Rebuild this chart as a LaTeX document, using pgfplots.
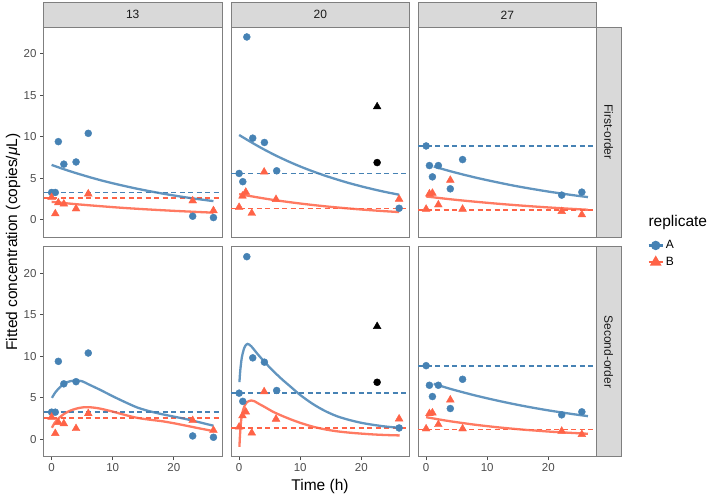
\documentclass[border=0pt]{standalone}
\usepackage{fontspec}
\setmainfont{Liberation Sans}
\usepackage{pgfplots}
\usepackage{pgfplotstable}
\pgfplotsset{compat=1.18}
\definecolor{cA}{HTML}{4682B4}
\definecolor{cB}{HTML}{FF6347}
\definecolor{bordergray}{HTML}{7F7F7F}
\definecolor{stripgray}{HTML}{D9D9D9}
\definecolor{ticktext}{HTML}{4D4D4D}
\definecolor{striptext}{HTML}{1A1A1A}
\pgfplotsset{
  panel/.style={
    scale only axis, width=178.5pt, height=210pt, anchor=south west,
    xmin=-1.33, xmax=27.9, ymin=-2.08, ymax=23.2,
    axis line style={draw=bordergray, line width=0.9pt},
    xtick={0,10,20}, ytick={0,5,10,15,20},
    xtick pos=lower, ytick pos=left,
    tick align=outside, major tick length=3.5pt,
    tick style={draw=ticktext, line width=0.8pt},
    tick label style={font=\fontsize{11.5}{13}\selectfont, text=ticktext},
    /pgf/number format/assume math mode=true,
    clip mode=individual,
  },
  ptsA/.style={only marks, mark=*, mark size=3.5pt, color=cA, mark options={draw=none, fill=cA}, forget plot},
  ptsB/.style={only marks, mark=triangle*, mark size=4.5pt, color=cB, mark options={draw=none, fill=cB}, forget plot},
  ptsK/.style={only marks, mark=*, mark size=3.5pt, color=black, mark options={draw=none, fill=black}, forget plot},
  ptsKT/.style={only marks, mark=triangle*, mark size=4.5pt, color=black, mark options={draw=none, fill=black}, forget plot},
  fitA/.style={no markers, line width=2.3pt, color=cA, opacity=0.85, smooth, forget plot},
  fitB/.style={no markers, line width=2.3pt, color=cB, opacity=0.85, smooth, forget plot},
  hA/.style={no markers, line width=1.7pt, color=cA, dash pattern=on 5pt off 3.5pt, forget plot},
  hB/.style={no markers, line width=1.7pt, color=cB, dash pattern=on 5pt off 3.5pt, forget plot},
}
\newcommand{\topstrip}[1]{%
  \draw[draw=bordergray, fill=stripgray, line width=0.9pt] (rel axis cs:0,1) rectangle ([yshift=24.3pt]rel axis cs:1,1);
  \node[font=\fontsize{12}{14}\selectfont, text=striptext] at ([yshift=12.15pt]rel axis cs:0.5,1) {#1};}
\newcommand{\rightstrip}[1]{%
  \draw[draw=bordergray, fill=stripgray, line width=0.9pt] (rel axis cs:1,0) rectangle ([xshift=24.5pt]rel axis cs:1,1);
  \node[font=\fontsize{12}{14}\selectfont, text=striptext, rotate=-90] at ([xshift=12.25pt]rel axis cs:1,0.5) {#1};}

% ---- observed data (same in both rows) ----
\pgfplotstableread{
t y
0 3.28
0.6 3.28
1.1 9.4
2.0 6.69
4.0 6.95
6.0 10.4
23.1 0.42
26.5 0.26
}\PtsThA
\pgfplotstableread{
t y
0 2.68
0.6 0.72
1.1 2.05
2.0 1.9
4.0 1.32
6.0 3.12
23.1 2.28
26.5 1.1
}\PtsThB
\pgfplotstableread{
t y
0 5.57
0.6 4.58
1.26 22.0
2.23 9.82
4.14 9.3
6.15 5.89
26.2 1.38
}\PtsTwA
\pgfplotstableread{
t y
0 1.5
0.55 2.85
1.09 3.32
2.07 0.78
4.1 5.75
6.04 2.45
26.2 2.48
}\PtsTwB
\pgfplotstableread{
t y
0 8.88
0.54 6.52
1.03 5.16
2.0 6.52
3.96 3.72
5.97 7.24
22.2 2.96
25.5 3.32
}\PtsTsA
\pgfplotstableread{
t y
0 1.28
0.54 3.12
1.03 3.2
2.0 1.8
3.96 4.76
5.97 1.28
22.2 1.0
25.5 0.6
}\PtsTsB

% ---- first-order fits ----
\pgfplotstableread{
t y
0 6.6
2 6.08
4 5.61
6 5.17
8 4.76
10 4.39
12 4.05
14 3.73
16 3.44
18 3.17
20 2.92
22 2.69
24 2.48
26.5 2.24
}\FoThA
\pgfplotstableread{
t y
0 2.15
4 1.87
8 1.63
12 1.41
16 1.23
20 1.07
24 0.93
26.5 0.85
}\FoThB
\pgfplotstableread{
t y
0 10.2
2 9.32
4 8.49
6 7.73
8 7.04
10 6.41
12 5.84
14 5.32
16 4.85
18 4.41
20 4.02
22 3.66
24 3.33
26.2 3.01
}\FoTwA
\pgfplotstableread{
t y
0 3.08
2 2.82
4 2.57
6 2.34
8 2.14
10 1.95
12 1.78
14 1.62
16 1.48
18 1.35
20 1.23
22 1.12
24 1.02
26.2 0.92
}\FoTwB
\pgfplotstableread{
t y
1.25 6.4
4 5.83
6 5.45
8 5.09
10 4.76
12 4.45
14 4.15
16 3.88
18 3.63
20 3.39
22 3.17
24 2.96
26.5 2.72
}\FoTsA
\pgfplotstableread{
t y
0 2.8
4 2.46
8 2.17
12 1.91
16 1.68
20 1.48
24 1.30
26.5 1.20
}\FoTsB

% ---- second-order fits ----
\pgfplotstableread{
t y
0.05 5.0
0.5 5.55
1 6.0
2 6.7
3 7.0
4 7.1
5 7.0
6 6.65
8 5.95
10 5.2
12 4.5
14 3.85
16 3.4
18 3.05
20 2.75
22 2.45
24 2.1
26.5 1.65
}\SoThA
\pgfplotstableread{
t y
0.05 1.4
0.5 2.0
1 2.45
2 3.05
3 3.45
4 3.7
5 3.85
6 3.88
7 3.82
8 3.7
10 3.35
12 2.95
14 2.6
16 2.38
18 2.2
20 1.95
22 1.66
24 1.36
26.5 1.0
}\SoThB
\pgfplotstableread{
t y
0.05 6.9
0.2 8.4
0.45 9.9
0.75 10.8
1.0 11.25
1.4 11.5
2.0 11.2
3 10.3
4.2 9.3
5.5 8.3
7 7.25
8.5 6.3
10 5.35
12 4.3
14 3.45
16 2.8
18 2.35
20 2.0
22 1.75
24 1.55
26.3 1.4
}\SoTwA
\pgfplotstableread{
t y
0.05 -0.9
0.15 0.6
0.33 2.28
0.5 3.1
0.71 3.69
1.0 4.2
1.3 4.5
1.96 4.69
2.5 4.6
3.2 4.3
4.25 3.88
5.5 3.35
7 2.85
8.5 2.4
10 2.0
12 1.55
14 1.22
16 0.98
18 0.82
20 0.7
22 0.6
24 0.53
26.3 0.48
}\SoTwB
\pgfplotstableread{
t y
1.24 6.69
4 6.08
6 5.68
8 5.30
10 4.95
12 4.62
14 4.31
16 4.02
18 3.75
20 3.50
22 3.27
24 3.05
26.5 2.80
}\SoTsA
\pgfplotstableread{
t y
0 2.68
2 2.42
4 2.18
6 1.97
8 1.77
10 1.60
12 1.44
14 1.30
16 1.17
18 1.06
20 0.95
22 0.86
24 0.78
26.5 0.68
}\SoTsB

\begin{document}
\begin{tikzpicture}
\useasboundingbox (0,0) rectangle (709pt,498pt);

% ===== Row 1: First-order =====
\begin{axis}[panel, at={(43.5pt,261pt)}, xmajorticks=false]
  \addplot[hA] coordinates {(-1.33,3.28) (27.9,3.28)};
  \addplot[hB] coordinates {(-1.33,2.6) (27.9,2.6)};
  \addplot[fitA] table[x=t,y=y] {\FoThA};
  \addplot[fitB] table[x=t,y=y] {\FoThB};
  \addplot[ptsA] table[x=t,y=y] {\PtsThA};
  \addplot[ptsB] table[x=t,y=y] {\PtsThB};
  \topstrip{13}
\end{axis}

\begin{axis}[panel, at={(231pt,261pt)}, xmajorticks=false, ymajorticks=false]
  \addplot[hA] coordinates {(-1.33,5.56) (27.9,5.56)};
  \addplot[hB] coordinates {(-1.33,1.36) (27.9,1.36)};
  \addplot[fitA] table[x=t,y=y] {\FoTwA};
  \addplot[fitB] table[x=t,y=y] {\FoTwB};
  \addplot[ptsA] table[x=t,y=y] {\PtsTwA};
  \addplot[ptsB] table[x=t,y=y] {\PtsTwB};
  \addplot[ptsK] coordinates {(22.6,6.88)};
  \addplot[ptsKT] coordinates {(22.6,13.6)};
  \topstrip{20}
\end{axis}

\begin{axis}[panel, at={(418pt,261pt)}, xmajorticks=false, ymajorticks=false]
  \addplot[hA] coordinates {(-1.33,8.88) (27.9,8.88)};
  \addplot[hB] coordinates {(-1.33,1.2) (27.9,1.2)};
  \addplot[fitA] table[x=t,y=y] {\FoTsA};
  \addplot[fitB] table[x=t,y=y] {\FoTsB};
  \addplot[ptsA] table[x=t,y=y] {\PtsTsA};
  \addplot[ptsB] table[x=t,y=y] {\PtsTsB};
  \topstrip{27}
  \rightstrip{First-order}
\end{axis}

% ===== Row 2: Second-order =====
\begin{axis}[panel, at={(43.5pt,41.3pt)}]
  \addplot[hA] coordinates {(-1.33,3.28) (27.9,3.28)};
  \addplot[hB] coordinates {(-1.33,2.6) (27.9,2.6)};
  \addplot[fitA] table[x=t,y=y] {\SoThA};
  \addplot[fitB] table[x=t,y=y] {\SoThB};
  \addplot[ptsA] table[x=t,y=y] {\PtsThA};
  \addplot[ptsB] table[x=t,y=y] {\PtsThB};
\end{axis}

\begin{axis}[panel, at={(231pt,41.3pt)}, ymajorticks=false]
  \addplot[hA] coordinates {(-1.33,5.56) (27.9,5.56)};
  \addplot[hB] coordinates {(-1.33,1.36) (27.9,1.36)};
  \addplot[fitA] table[x=t,y=y] {\SoTwA};
  \addplot[fitB] table[x=t,y=y] {\SoTwB};
  \addplot[ptsA] table[x=t,y=y] {\PtsTwA};
  \addplot[ptsB] table[x=t,y=y] {\PtsTwB};
  \addplot[ptsK] coordinates {(22.6,6.88)};
  \addplot[ptsKT] coordinates {(22.6,13.6)};
\end{axis}

\begin{axis}[panel, at={(418pt,41.3pt)}, ymajorticks=false,
  legend style={draw=none, fill=none, at={(1.285,0.966)}, anchor=west,
    font=\fontsize{12}{14}\selectfont, row sep=3pt, inner sep=0pt},
  legend cell align=left,
  legend image code/.code={\draw[mark repeat=2,mark phase=2] plot coordinates {(0pt,0pt) (7pt,0pt) (14pt,0pt)};}]
  \addlegendimage{line width=2.3pt, color=cA, mark=*, mark size=3.5pt, mark options={draw=none, fill=cA}}
  \addlegendentry{A}
  \addlegendimage{line width=2.3pt, color=cB, mark=triangle*, mark size=4.5pt, mark options={draw=none, fill=cB}}
  \addlegendentry{B}
  \addplot[hA] coordinates {(-1.33,8.88) (27.9,8.88)};
  \addplot[hB] coordinates {(-1.33,1.2) (27.9,1.2)};
  \addplot[fitA] table[x=t,y=y] {\SoTsA};
  \addplot[fitB] table[x=t,y=y] {\SoTsB};
  \addplot[ptsA] table[x=t,y=y] {\PtsTsA};
  \addplot[ptsB] table[x=t,y=y] {\PtsTsB};
  \rightstrip{Second-order}
\end{axis}

% titles
\node[font=\fontsize{15.5}{18}\selectfont, rotate=90] at (13pt,256pt) {Fitted concentration (copies/\textit{μ}L)};
\node[font=\fontsize{15.5}{18}\selectfont] at (320pt,11.3pt) {Time (h)};
\node[font=\fontsize{15.5}{18}\selectfont, anchor=west] at (645pt,276pt) {replicate};
\end{tikzpicture}
\end{document}
